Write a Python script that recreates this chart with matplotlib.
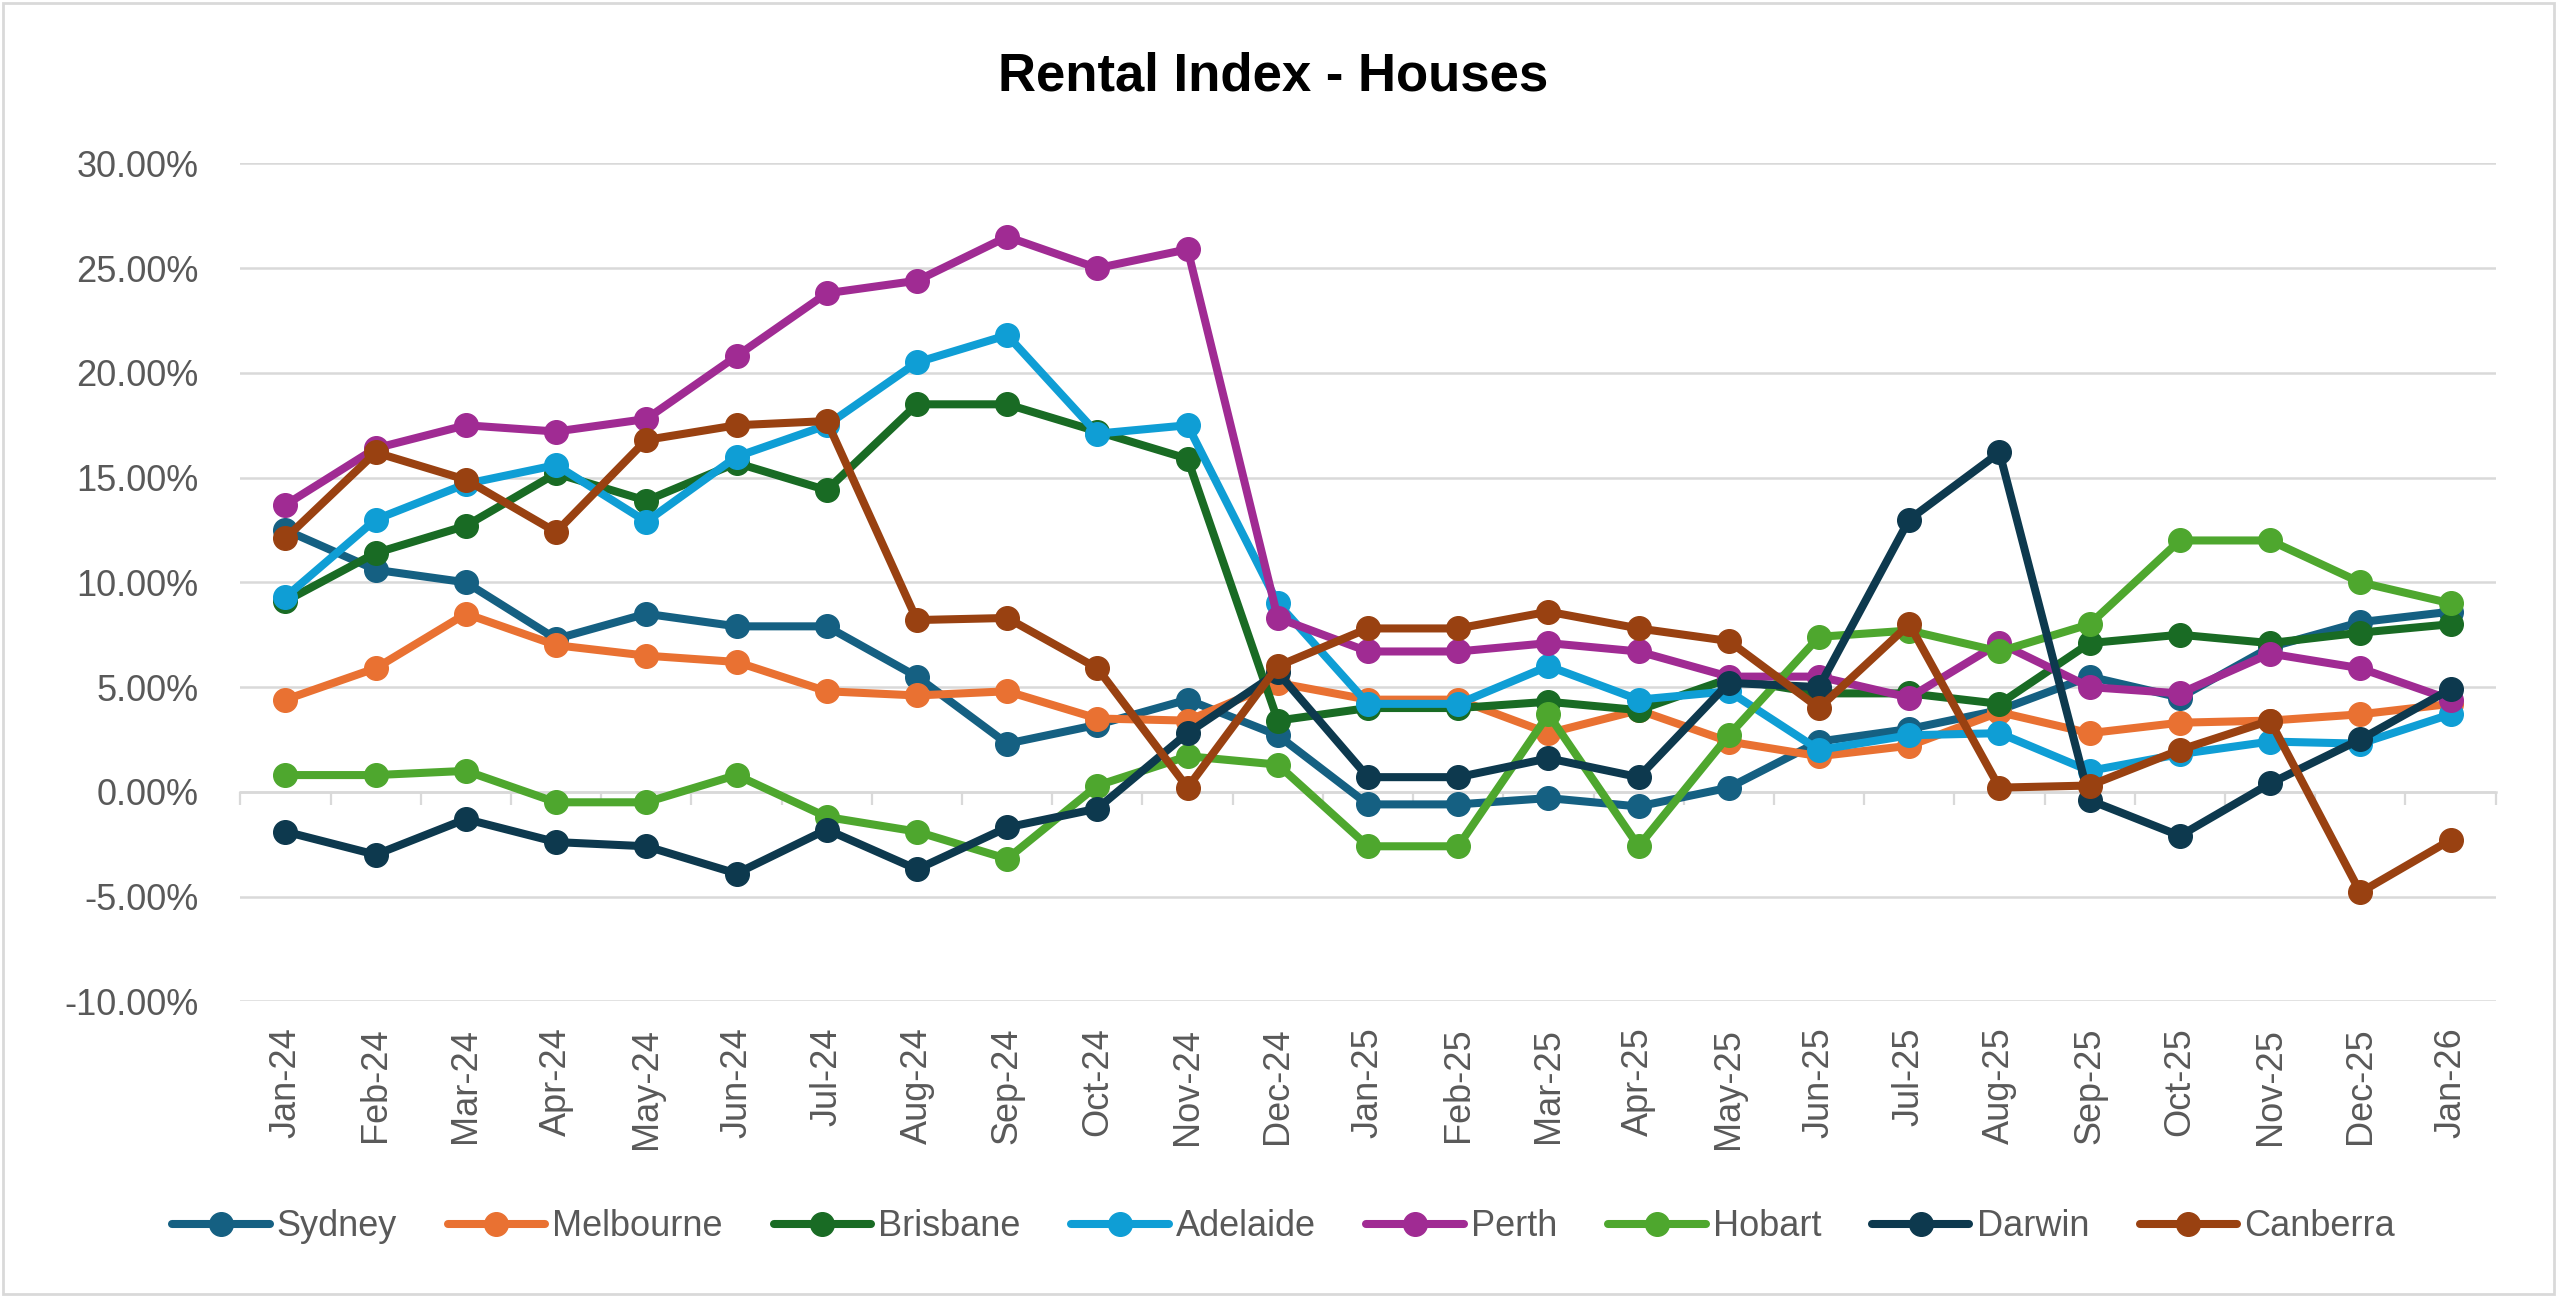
import matplotlib.pyplot as plt
import matplotlib.patches as patches
import numpy as np

months = ["Jan-24", "Feb-24", "Mar-24", "Apr-24", "May-24", "Jun-24", "Jul-24", "Aug-24",
          "Sep-24", "Oct-24", "Nov-24", "Dec-24", "Jan-25", "Feb-25", "Mar-25", "Apr-25",
          "May-25", "Jun-25", "Jul-25", "Aug-25", "Sep-25", "Oct-25", "Nov-25", "Dec-25", "Jan-26"]

sydney = [12.5, 10.6, 10.0, 7.3, 8.5, 7.9, 7.9, 5.5, 2.3, 3.2, 4.4, 2.7, -0.6, -0.6, -0.3, -0.7,
          0.2, 2.4, 3.0, 3.9, 5.5, 4.5, 6.9, 8.1, 8.6]
melbourne = [4.4, 5.9, 8.5, 7.0, 6.5, 6.2, 4.8, 4.6, 4.8, 3.5, 3.4, 5.2, 4.4, 4.4, 2.8, 3.9,
             2.4, 1.7, 2.2, 3.8, 2.8, 3.3, 3.4, 3.7, 4.2]
brisbane = [9.1, 11.4, 12.7, 15.2, 13.9, 15.7, 14.4, 18.5, 18.5, 17.2, 15.9, 3.4, 4.0, 4.0, 4.3, 3.9,
            5.4, 4.7, 4.7, 4.2, 7.1, 7.5, 7.1, 7.6, 8.0]
adelaide = [9.3, 13.0, 14.7, 15.6, 12.9, 16.0, 17.5, 20.5, 21.8, 17.1, 17.5, 9.0, 4.2, 4.2, 6.0, 4.4,
            4.8, 2.0, 2.7, 2.8, 1.0, 1.8, 2.4, 2.3, 3.7]
perth = [13.7, 16.4, 17.5, 17.2, 17.8, 20.8, 23.8, 24.4, 26.5, 25.0, 25.9, 8.3, 6.7, 6.7, 7.1, 6.7,
         5.5, 5.5, 4.5, 7.1, 5.0, 4.7, 6.6, 5.9, 4.4]
hobart = [0.8, 0.8, 1.0, -0.5, -0.5, 0.8, -1.2, -1.9, -3.2, 0.3, 1.7, 1.3, -2.6, -2.6, 3.7, -2.6,
          2.7, 7.4, 7.7, 6.7, 8.0, 12.0, 12.0, 10.0, 9.0]
darwin = [-1.9, -3.0, -1.3, -2.4, -2.6, -3.9, -1.8, -3.7, -1.7, -0.8, 2.8, 5.7, 0.7, 0.7, 1.6, 0.7,
          5.2, 5.0, 13.0, 16.2, -0.4, -2.1, 0.4, 2.5, 4.9]
canberra = [12.1, 16.2, 14.9, 12.4, 16.8, 17.5, 17.7, 8.2, 8.3, 5.9, 0.2, 6.0, 7.8, 7.8, 8.6, 7.8,
            7.2, 4.0, 8.0, 0.2, 0.3, 2.0, 3.4, -4.8, -2.3]

cities = ["Sydney", "Melbourne", "Brisbane", "Adelaide", "Perth", "Hobart", "Darwin", "Canberra"]
series = [sydney, melbourne, brisbane, adelaide, perth, hobart, darwin, canberra]
colors = ["#156082", "#E97132", "#196B24", "#0F9ED5", "#A02B93", "#4EA72E", "#0D394E", "#994111"]

plt.rcParams['font.family'] = ['Liberation Sans', 'DejaVu Sans']
grey_text = "#595959"
grid_col = "#D9D9D9"

fig = plt.figure(figsize=(25.57, 12.97), dpi=100)
ax = fig.add_axes([0.094, 0.228, 0.882, 0.646])

x = np.arange(len(months))
for name, vals, c in zip(cities, series, colors):
    ax.plot(x, vals, color=c, linewidth=5.8, marker='o', markersize=17,
            solid_capstyle='round', label=name)

ax.set_xlim(-0.5, len(months) - 0.5)
ax.set_ylim(-10, 30)
ax.set_yticks(np.arange(-10, 31, 5))
ax.set_yticklabels([f"{v:.2f}%" for v in np.arange(-10, 31, 5)])
ax.set_xticks(x)
ax.set_xticklabels(months, rotation=90)
ax.tick_params(axis='y', length=0, pad=30, labelsize=26, labelcolor=grey_text)
ax.tick_params(axis='x', length=0, pad=19, labelsize=26, labelcolor=grey_text)
ax.grid(axis='y', color=grid_col, linewidth=1.8)
ax.set_axisbelow(True)
for s in ax.spines.values():
    s.set_visible(False)

# category tick marks on the zero line
sec = ax.secondary_xaxis(0.25)
sec.set_xticks(np.arange(-0.5, len(months), 1.0))
sec.set_xticklabels([])
sec.tick_params(axis='x', direction='out', length=9.5, width=1.6, color=grid_col)
sec.spines['bottom'].set_color(grid_col)
sec.spines['bottom'].set_linewidth(1.8)

fig.text(0.498, 0.941, "Rental Index - Houses", ha='center', va='center',
         fontsize=38, fontweight='bold', color='black')

leg = fig.legend(loc='center', bbox_to_anchor=(0.502, 0.054), ncol=8, frameon=False,
                 fontsize=26, handlelength=2.7, handletextpad=0.2, columnspacing=1.4)
for t in leg.get_texts():
    t.set_color(grey_text)

fig.patches.append(patches.Rectangle((0.001, 0.002), 0.998, 0.996, transform=fig.transFigure,
                                     fill=False, edgecolor=grid_col, linewidth=2))

fig.savefig("out.png", dpi=100)
